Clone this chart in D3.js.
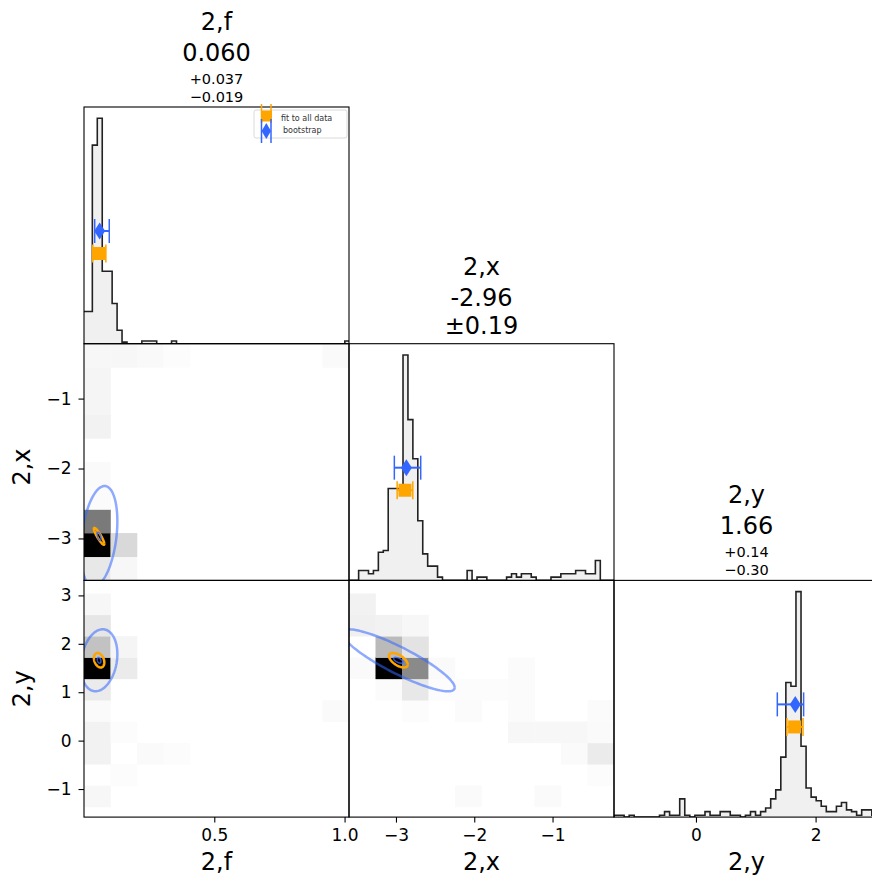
<!DOCTYPE html>
<html><head><meta charset="utf-8">
<script src="https://cdn.jsdelivr.net/npm/d3@7"></script>
<style>body{margin:0;background:#fff}svg{display:block;font-family:"DejaVu Sans",sans-serif}</style>
</head><body><svg id="c" width="872" height="886"></svg>
<script>
// ---------------- data ----------------
const params = ["2,f", "2,x", "2,y"];
const axisRanges = [[0, 1.017], [-3.6, -0.215], [-1.37, 3.06]];
const row3YRange = [-1.58, 3.31];
const titleLines = [["2,f", "0.060", "+0.037", "\u22120.019"], ["2,x", "-2.96", "\u00b10.19"], ["2,y", "1.66", "+0.14", "\u22120.30"]];
const xTicks = [[0.5, 1.0], [-3, -2, -1], [0, 2]];
const yTicksRow2 = [-3, -2, -1];
const yTicksRow3 = [-1, 0, 1, 2, 3];

// 1D histograms (counts), bin start & width
const histStart = [-0.006, -3.603, -1.37];
const histWidth = [0.019, 0.063, 0.0845];
const fHist = [12, 12, 74, 84, 27, 27, 15, 5, 0.6, 0, 0, 0, 1, 1, 1, 0, 0, 0, 1, 0, 0, 0, 0, 0, 0, 0, 0, 0, 0, 0, 0, 0, 0, 0, 0, 0, 0, 0, 0, 0, 0, 0, 0, 0, 0, 0, 0, 0, 0, 0, 0, 0, 0, 1];
const xHist = [0, 0, 3, 3, 2, 3, 8.5, 9, 27.7, 27.7, 27.7, 68, 48.5, 36.7, 18, 8, 4.3, 4.3, 1, 0, 0, 0, 0, 0, 3, 0, 1, 1, 0, 0, 0, 0, 1, 2, 1, 2, 2, 1, 0, 0, 0, 1, 1, 2, 2, 2, 3, 3, 2, 2, 6, 0, 0, 0];
const yHist = [1, 1, 0, 1, 0, 0, 0, 0, 0, 1, 3, 1, 1, 10, 1, 0, 1, 1, 3, 1, 1, 3, 3, 1, 1, 0, 1, 3, 1, 3, 5, 10, 15, 33, 74, 72, 124, 39, 16, 11, 9, 6, 3, 3, 6, 8, 4, 3, 1, 4, 4, 1, 0];
const hists = [fHist, xHist, yHist];

// 2D histograms (10x10, rows = bins of the vertical parameter from the bottom)
const bin2Ranges = [[0, 1.017], [-3.6, -0.215], [-1.37, 3.04]];
const grid_fx = [
  [9, 3, 0, 0, 0, 0, 0, 0, 0, 0],
  [100, 15, 0, 0, 0, 0, 0, 0, 0, 0],
  [52, 0, 0, 0, 0, 0, 0, 0, 0, 0],
  [1.5, 0, 0, 0, 0, 0, 0, 0, 0, 0],
  [2, 0, 0, 0, 0, 0, 0, 0, 0, 0],
  [0, 0, 0, 0, 0, 0, 0, 0, 0, 0],
  [5, 0, 0, 0, 0, 0, 0, 0, 0, 0],
  [4, 0, 0, 0, 0, 0, 0, 0, 0, 0],
  [4, 0, 0, 0, 0, 0, 0, 0, 0, 0],
  [3, 3, 2.5, 1, 0, 0, 0, 0, 0, 2]
];
const grid_fy = [
  [3, 0, 0, 0, 0, 0, 0, 0, 0, 0],
  [0, 1, 0, 0, 0, 0, 0, 0, 0, 0],
  [5, 0, 2, 1, 0, 0, 0, 0, 0, 0],
  [5, 1, 0, 0, 0, 0, 0, 0, 0, 0],
  [2, 0, 0, 0, 0, 0, 0, 0, 0, 2],
  [8, 0, 0, 0, 0, 0, 0, 0, 0, 0],
  [100, 8, 0, 0, 0, 0, 0, 0, 0, 0],
  [24, 4, 0, 0, 0, 0, 0, 0, 0, 0],
  [10, 0, 0, 0, 0, 0, 0, 0, 0, 0],
  [3, 0, 0, 0, 0, 0, 0, 0, 0, 0]
];
const grid_xy = [
  [0, 0, 0, 0, 2, 0, 0, 2, 0, 0],
  [0, 0, 0, 0, 0, 0, 0, 0, 0, 1],
  [0, 0, 0, 0, 0, 0, 0, 0, 2, 8],
  [0, 0, 0, 0, 0, 0, 3, 3, 3, 2],
  [0, 0, 1, 0, 1.5, 0, 1.5, 0, 0, 1.5],
  [0, 1.5, 9, 1, 1, 1, 1.5, 0, 0, 0],
  [2, 100, 46, 2, 0, 0, 1.5, 0, 0, 0],
  [0, 27, 11, 0, 0, 0, 0, 0, 0, 0],
  [6, 5, 3, 0, 0, 0, 0, 0, 0, 0],
  [5, 0, 0, 0, 0, 0, 0, 0, 0, 0]
];

// point estimates: value, low, high
const fitVal = [0.059, -2.885, 1.65], fitLo = [0.033, -2.985, 1.52], fitHi = [0.084, -2.785, 1.79];
const bootVal = [0.060, -2.867, 1.66], bootLo = [0.041, -3.021, 1.36], bootHi = [0.097, -2.684, 1.80];

// ellipses (centre, sigmas, correlations for pairs fx, fy, xy)
const ellCenter = [0.058, -2.97, 1.66];
const blueSig = [0.07, 0.72, 0.64], blueRho = [0.3, 0.2, -0.88];
const orangeSig = [0.02, 0.12, 0.15], orangeRho = [-0.9, -0.3, -0.6];
const smallSig = [0.007, 0.06, 0.06], smallRho = [-0.5, -0.3, -0.6];

// ---------------- layout ----------------
const ORANGE = "#ffa500", BLUE = "#3366ff";
const svg = d3.select("#c");
const colX = [84, 349, 614], colW = 265;
const rowY = [107, 343.7, 580.4], rowH = 236.7;
const xs = axisRanges.map((r, i) => d3.scaleLinear().domain(r).range([colX[i], colX[i] + colW]));
const ysRow = [null,
  d3.scaleLinear().domain(axisRanges[1]).range([rowY[1] + rowH, rowY[1]]),
  d3.scaleLinear().domain(row3YRange).range([rowY[2] + rowH, rowY[2]])];
const grey = d3.scaleLinear().domain([0, 100]).range(["#ffffff", "#000000"]);
const defs = svg.append("defs");
function clipFor(r, c) {
  const id = "clip" + r + c;
  defs.append("clipPath").attr("id", id).append("rect")
    .attr("x", colX[c]).attr("y", rowY[r]).attr("width", colW).attr("height", rowH);
  return "url(#" + id + ")";
}

// ---------------- 2D panels ----------------
const pairs = [{r: 1, c: 0, grid: grid_fx, k: 0}, {r: 2, c: 0, grid: grid_fy, k: 1}, {r: 2, c: 1, grid: grid_xy, k: 2}];
function ellPts(cx, cy, sa, sb, rho) {
  return d3.range(0, 121).map(i => {
    const t = i / 120 * 2 * Math.PI;
    return [cx + sa * Math.cos(t), cy + sb * (rho * Math.cos(t) + Math.sqrt(1 - rho * rho) * Math.sin(t))];
  });
}
pairs.forEach(p => {
  const g = svg.append("g").attr("clip-path", clipFor(p.r, p.c));
  const xsc = xs[p.c], ysc = ysRow[p.r];
  const bx = bin2Ranges[p.c], by = bin2Ranges[p.r];
  const wx = (bx[1] - bx[0]) / 10, wy = (by[1] - by[0]) / 10;
  p.grid.forEach((row, yi) => row.forEach((v, xi) => {
    if (v <= 0) return;
    const x0 = xsc(bx[0] + xi * wx), x1 = xsc(bx[0] + (xi + 1) * wx);
    const y0 = ysc(by[0] + yi * wy), y1 = ysc(by[0] + (yi + 1) * wy);
    g.append("rect").attr("x", x0).attr("y", y1).attr("width", x1 - x0 + 0.3).attr("height", y0 - y1 + 0.3)
      .attr("fill", grey(v));
  }));
  const line = d3.line().x(d => xsc(d[0])).y(d => ysc(d[1]));
  const a = p.c, b = p.r;
  g.append("path").attr("d", line(ellPts(ellCenter[a], ellCenter[b], blueSig[a], blueSig[b], blueRho[p.k])))
    .attr("fill", "none").attr("stroke", BLUE).attr("stroke-opacity", 0.55).attr("stroke-width", 2.5);
  g.append("path").attr("d", line(ellPts(ellCenter[a], ellCenter[b], orangeSig[a], orangeSig[b], orangeRho[p.k])))
    .attr("fill", "none").attr("stroke", ORANGE).attr("stroke-width", 2.5);
  g.append("path").attr("d", line(ellPts(ellCenter[a], ellCenter[b], smallSig[a], smallSig[b], smallRho[p.k])))
    .attr("fill", "none").attr("stroke", BLUE).attr("stroke-opacity", 0.8).attr("stroke-width", 1.5);
});

// ---------------- 1D diagonal panels ----------------
[0, 1, 2].forEach(i => {
  const xsc = xs[i];
  const h = hists[i];
  const maxV = d3.max(h);
  const ysc = d3.scaleLinear().domain([0, maxV * 1.05]).range([rowY[i] + rowH, rowY[i]]);
  const g = svg.append("g").attr("clip-path", clipFor(i, i));
  const pts = h.map((v, k) => [histStart[i] + k * histWidth[i], v]);
  pts.push([histStart[i] + h.length * histWidth[i], h[h.length - 1]]);
  const area = d3.area().curve(d3.curveStepAfter).x(d => xsc(d[0])).y0(ysc(0)).y1(d => ysc(d[1]));
  g.append("path").attr("d", area(pts)).attr("fill", "#f0f0f0");
  const verts = [[pts[0][0], 0]];
  h.forEach((v, k) => { verts.push([pts[k][0], v]); verts.push([pts[k + 1][0], v]); });
  verts.push([pts[pts.length - 1][0], 0]);
  g.append("path").attr("d", d3.line().x(d => xsc(d[0])).y(d => ysc(d[1]))(verts))
    .attr("fill", "none").attr("stroke", "#222").attr("stroke-width", 1.6);

  // error bars: bootstrap (blue) at 0.5*max, fit (orange) at 0.4*max
  const yb = ysc(0.5 * maxV), yo = ysc(0.4 * maxV);
  const eg = svg.append("g");
  eg.append("line").attr("x1", xsc(fitLo[i])).attr("x2", xsc(fitHi[i])).attr("y1", yo).attr("y2", yo)
    .attr("stroke", ORANGE).attr("stroke-width", 2);
  [fitLo[i], fitHi[i]].forEach(v => eg.append("line").attr("x1", xsc(v)).attr("x2", xsc(v))
    .attr("y1", yo - 9).attr("y2", yo + 9).attr("stroke", ORANGE).attr("stroke-width", 1.5));
  eg.append("rect").attr("x", xsc(fitVal[i]) - 6.5).attr("y", yo - 6.5).attr("width", 13).attr("height", 13).attr("fill", ORANGE);
  eg.append("line").attr("x1", xsc(bootLo[i])).attr("x2", xsc(bootHi[i])).attr("y1", yb).attr("y2", yb)
    .attr("stroke", BLUE).attr("stroke-width", 2);
  [bootLo[i], bootHi[i]].forEach(v => eg.append("line").attr("x1", xsc(v)).attr("x2", xsc(v))
    .attr("y1", yb - 12).attr("y2", yb + 12).attr("stroke", BLUE).attr("stroke-width", 1.5));
  const bx = xsc(bootVal[i]);
  eg.append("path").attr("d", `M${bx},${yb - 8.5}L${bx + 5.5},${yb}L${bx},${yb + 8.5}L${bx - 5.5},${yb}Z`).attr("fill", BLUE);
});

// ---------------- frames ----------------
const panels = [[0, 0], [1, 0], [1, 1], [2, 0], [2, 1], [2, 2]];
panels.forEach(([r, c]) => {
  svg.append("rect").attr("x", colX[c]).attr("y", rowY[r]).attr("width", colW).attr("height", rowH)
    .attr("fill", "none").attr("stroke", "#000").attr("stroke-width", 1.1);
});

// ---------------- legend ----------------
const lg = svg.append("g");
lg.append("rect").attr("x", 254).attr("y", 110).attr("width", 93).attr("height", 28).attr("rx", 2)
  .attr("fill", "#fff").attr("fill-opacity", 0.85).attr("stroke", "#d0d0d0").attr("stroke-width", 0.8);
[261.5, 271].forEach(x => lg.append("line").attr("x1", x).attr("x2", x).attr("y1", 104).attr("y2", 123)
  .attr("stroke", ORANGE).attr("stroke-width", 1.5));
lg.append("rect").attr("x", 261).attr("y", 110.5).attr("width", 11).attr("height", 11).attr("fill", ORANGE);
[261.5, 271].forEach(x => lg.append("line").attr("x1", x).attr("x2", x).attr("y1", 119).attr("y2", 143)
  .attr("stroke", BLUE).attr("stroke-width", 1.5));
lg.append("path").attr("d", "M266.3,123L271,131L266.3,139L261.6,131Z").attr("fill", BLUE);
lg.append("text").attr("x", 281).attr("y", 121).attr("font-size", 8).attr("fill", "#333").text("fit to all data");
lg.append("text").attr("x", 283).attr("y", 133).attr("font-size", 8).attr("fill", "#333").text("bootstrap");

// ---------------- axes ----------------
const fmtTick = (i) => (v => i === 0 ? d3.format(".1f")(v) : d3.format("d")(v).replace("-", "\u2212"));
[0, 1, 2].forEach(i => {
  const ax = svg.append("g").attr("transform", `translate(0,${rowY[2] + rowH})`)
    .call(d3.axisBottom(xs[i]).tickValues(xTicks[i]).tickSize(5.5).tickPadding(6).tickFormat(fmtTick(i)));
  ax.select(".domain").remove();
  ax.selectAll("text").attr("font-size", 17).attr("font-family", "DejaVu Sans").attr("fill", "#000");
  ax.selectAll("line").attr("stroke-width", 1.1);
  svg.append("text").attr("x", colX[i] + colW / 2).attr("y", 870).attr("text-anchor", "middle")
    .attr("font-size", 24).text(params[i]);
});
[[1, yTicksRow2], [2, yTicksRow3]].forEach(([r, tv]) => {
  const ax = svg.append("g").attr("transform", `translate(${colX[0]},0)`)
    .call(d3.axisLeft(ysRow[r]).tickValues(tv).tickSize(5.5).tickPadding(7).tickFormat(fmtTick(1)));
  ax.select(".domain").remove();
  ax.selectAll("text").attr("font-size", 17).attr("font-family", "DejaVu Sans").attr("fill", "#000");
  ax.selectAll("line").attr("stroke-width", 1.1);
  const cy = rowY[r] + rowH / 2 + (r === 1 ? 5 : -10);
  svg.append("text").attr("transform", `translate(30,${cy}) rotate(-90)`).attr("text-anchor", "middle")
    .attr("font-size", 24).text(params[r]);
});

// ---------------- titles ----------------
titleLines.forEach((lines, i) => {
  const cx = colX[i] + colW / 2, top = rowY[i];
  const offs = lines.length === 4 ? [-77, -46, -23.5, -5] : [-69, -38, -10];
  const sizes = lines.length === 4 ? [24, 24, 14.5, 14.5] : [24, 24, 24];
  lines.forEach((t, k) => svg.append("text").attr("x", cx).attr("y", top + offs[k])
    .attr("text-anchor", "middle").attr("font-size", sizes[k]).text(t));
});
</script>
</body></html>
